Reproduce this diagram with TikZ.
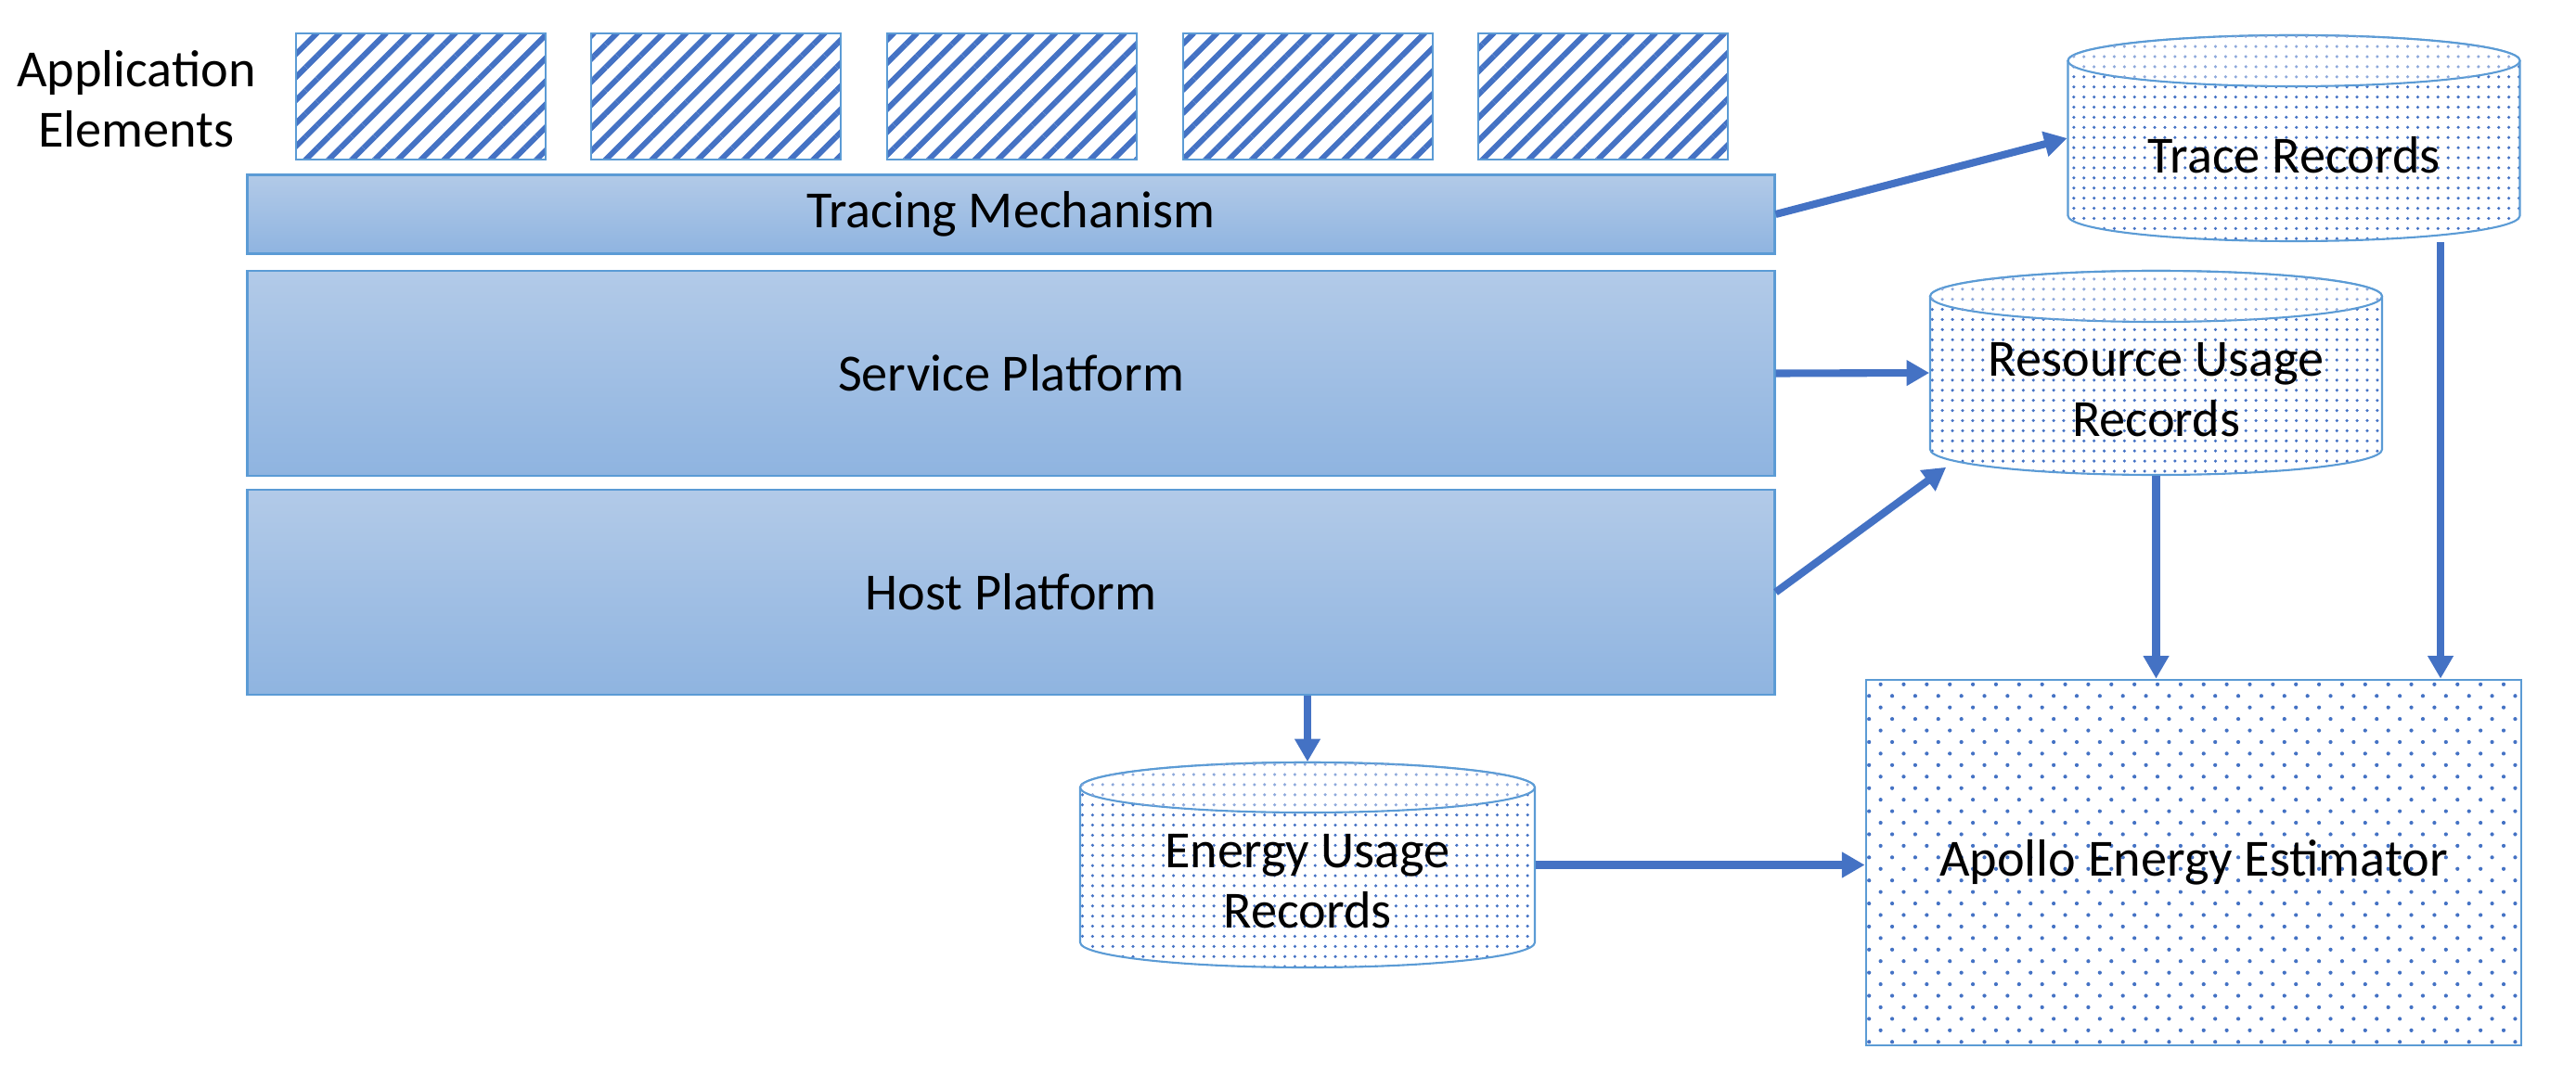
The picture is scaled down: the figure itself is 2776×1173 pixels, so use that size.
\documentclass[tikz,border=0pt]{standalone}
\usepackage{fontspec}
\setmainfont{Carlito}
\usetikzlibrary{patterns.meta,arrows.meta,calc}
\definecolor{edgeblue}{HTML}{5B9BD5}
\definecolor{arrowblue}{HTML}{4472C4}
\definecolor{topfill}{HTML}{B2CAE8}
\definecolor{botfill}{HTML}{8FB4E0}
\definecolor{lightdot}{HTML}{8EA9DB}
\tikzset{
  txt/.style={font=\fontsize{16}{18.4}\selectfont, align=center, inner sep=0pt},
  layerbar/.style={draw=edgeblue, line width=0.6pt, top color=topfill, bottom color=botfill, shading angle=0},
  appbox/.style={draw=edgeblue, line width=0.7pt, pattern={Lines[angle=45,distance=5pt,line width=1.7pt]}, pattern color=arrowblue},
  cylbody/.style={draw=edgeblue, line width=0.6pt, pattern={Dots[distance=3.1pt,radius=0.5pt]}, pattern color=arrowblue},
  cyltop/.style={draw=edgeblue, line width=0.6pt, fill=white, postaction={pattern={Dots[distance=3.1pt,radius=0.5pt]}, pattern color=lightdot}},
  estbox/.style={draw=edgeblue, line width=0.7pt, pattern={Dots[angle=45,distance=5pt,radius=0.6pt]}, pattern color=arrowblue},
  flow/.style={draw=arrowblue, line width=2.3pt, -{Triangle[length=7pt,width=7.5pt]}},
}
% cylinder: cx, ytop, ybot, halfwidth, ry (image coords, y down)
\newcommand\drawcyl[5]{%
  \path[cylbody] (#1-#4,#2+#5) -- (#1-#4,#3-#5) arc[start angle=180,end angle=0,x radius=#4,y radius=#5]
     -- (#1+#4,#2+#5) arc[start angle=0,end angle=-180,x radius=#4,y radius=#5] -- cycle;
  \path[cyltop] (#1,#2+#5) ellipse[x radius=#4,y radius=#5];
}
\begin{document}
\begin{tikzpicture}[x=0.01cm,y=-0.01cm]
\useasboundingbox (0,0) rectangle (2776,1173);

% application elements
\node[txt] (applbl) at (147,107) {Application\\Elements};
\foreach \i/\xa/\xb in {1/319/588, 2/637/906, 3/956/1225, 4/1275/1544, 5/1593/1862}{
  \path[appbox] (\xa,36) rectangle (\xb,172);
  \node[inner sep=0pt, minimum width={(\xb-\xa)*0.01cm}, minimum height=1.36cm] (app\i) at ({(\xa+\xb)/2},104) {};
}

% layers
\node[layerbar, txt, minimum width=16.45cm, minimum height=0.85cm] (tracing) at (1089.5,231) {Tracing Mechanism};
\node[layerbar, txt, minimum width=16.45cm, minimum height=2.21cm] (service) at (1089.5,402.5) {Service Platform};
\node[layerbar, txt, minimum width=16.45cm, minimum height=2.21cm] (host) at (1089.5,638.5) {Host Platform};

% cylinders
\drawcyl{2472}{38}{260}{243.5}{27.5}
\node[txt, minimum width=4.87cm, minimum height=2.22cm] (trace) at (2472,149) {};
\node[txt] (tracetxt) at (2472,167) {Trace Records};

\drawcyl{2323.5}{292}{512}{243.5}{27.5}
\node[txt, minimum width=4.87cm, minimum height=2.20cm] (resource) at (2323.5,402) {};
\node[txt] (resourcetxt) at (2323.5,420) {Resource Usage\\Records};

\drawcyl{1409}{822}{1043}{245}{27}
\node[txt, minimum width=4.90cm, minimum height=2.21cm] (energy) at (1409,932.5) {};
\node[txt] (energytxt) at (1409,950) {Energy Usage\\Records};

% estimator
\node[estbox, txt, minimum width=7.06cm, minimum height=3.94cm] (apollo) at (2364,930) {Apollo Energy Estimator};

% connectors
\draw[flow] (tracing.east) -- (trace.west);
\draw[flow] (service.east) -- (resource.west);
\draw[flow] (host.east) -- ($(resource.south west)+(18,-9)$);
\draw[flow] (energy.north |- host.south) -- (energy.north);
\draw[flow] (energy.east) -- (energy.east -| apollo.west);
\draw[flow] (resource.south) -- (resource.south |- apollo.north);
\coordinate (tracefoot) at ($(trace.south)+(158,0)$);
\draw[flow] (tracefoot) -- (tracefoot |- apollo.north);
\end{tikzpicture}
\end{document}
